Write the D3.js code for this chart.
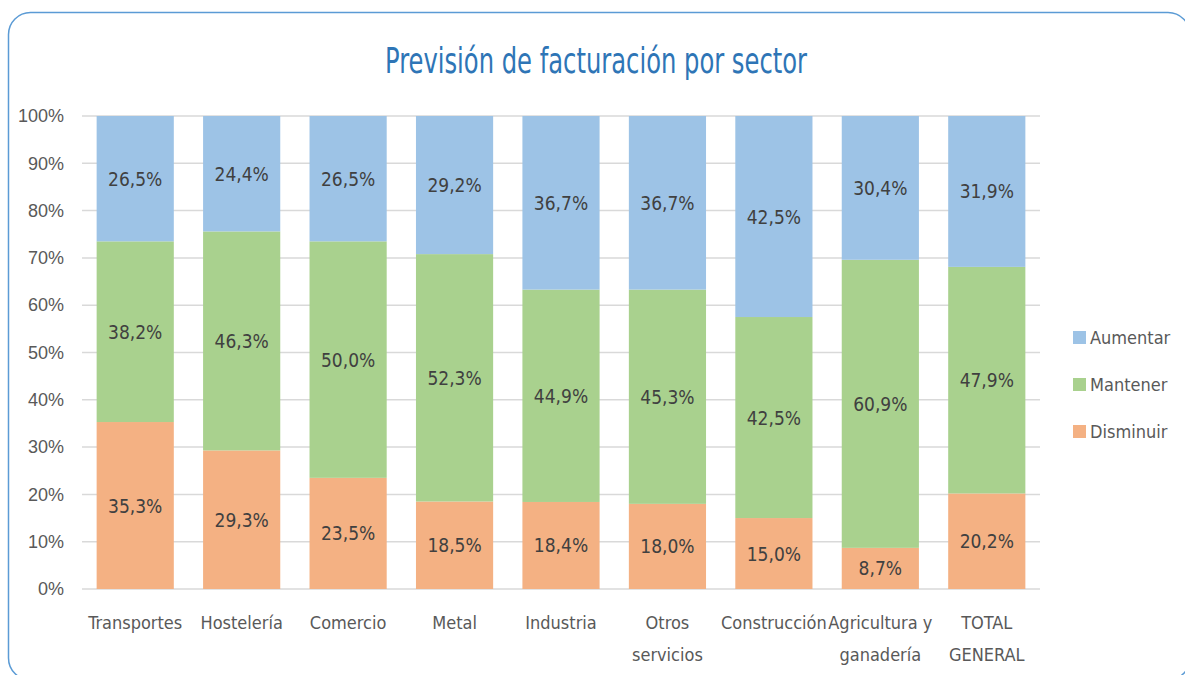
<!DOCTYPE html>
<html>
<head>
<meta charset="utf-8">
<script src="https://cdn.jsdelivr.net/npm/d3@7"></script>
<style>
  body { margin: 0; background: #fff; }
  svg { display: block; font-family: "Liberation Sans Narrow", "DejaVu Sans Condensed", sans-serif; }
</style>
</head>
<body>
<svg id="chart" width="1185" height="675"></svg>
<script>
const sectors = ['Transportes', 'Hostelería', 'Comercio', 'Metal', 'Industria', 'Otros servicios',
  'Construcción', 'Agricultura y ganadería', 'TOTAL GENERAL'];
const sectorLines = [['Transportes'], ['Hostelería'], ['Comercio'], ['Metal'], ['Industria'],
  ['Otros', 'servicios'], ['Construcción'], ['Agricultura y', 'ganadería'], ['TOTAL', 'GENERAL']];
const disminuir = [35.3, 29.3, 23.5, 18.5, 18.4, 18.0, 15.0, 8.7, 20.2];
const mantener = [38.2, 46.3, 50.0, 52.3, 44.9, 45.3, 42.5, 60.9, 47.9];
const aumentar = [26.5, 24.4, 26.5, 29.2, 36.7, 36.7, 42.5, 30.4, 31.9];
const seriesNames = ['Disminuir', 'Mantener', 'Aumentar'];
const yTicks = [0, 10, 20, 30, 40, 50, 60, 70, 80, 90, 100];

const colors = { Disminuir: '#f4b183', Mantener: '#a9d18e', Aumentar: '#9dc3e6' };

const svg = d3.select('#chart');
const margin = { top: 116, left: 82 };
const width = 958;
const height = 473;

// outer rounded frame (runs past the right edge of the picture)
svg.append('rect')
  .attr('x', 8.5).attr('y', 12.5)
  .attr('width', 1181.5).attr('height', 667.5)
  .attr('rx', 22).attr('ry', 22)
  .attr('fill', 'none')
  .attr('stroke', '#5b9bd5')
  .attr('stroke-width', 1.5);

svg.append('text')
  .attr('x', 596).attr('y', 73)
  .attr('text-anchor', 'middle')
  .attr('fill', '#2e75b6')
  .attr('textLength', 422)
  .attr('lengthAdjust', 'spacingAndGlyphs')
  .style('font-size', '36px')
  .text('Previsión de facturación por sector');

const chart = svg.append('g')
  .attr('transform', `translate(${margin.left},${margin.top})`);

const x = d3.scaleBand().domain(sectors).range([0, width]).paddingInner(0.275).paddingOuter(0.1375);
const y = d3.scaleLinear().domain([0, 100]).range([height, 0]);

// gridlines
chart.append('g')
  .selectAll('line')
  .data(yTicks)
  .join('line')
  .attr('x1', 0).attr('x2', width)
  .attr('y1', (d) => y(d)).attr('y2', (d) => y(d))
  .attr('stroke', '#d9d9d9')
  .attr('stroke-width', 1.5);

const yAxis = chart.append('g')
  .call(d3.axisLeft(y).tickValues(yTicks).tickFormat((d) => `${d}%`).tickSize(0).tickPadding(18));
yAxis.select('.domain').remove();
yAxis.selectAll('text').style('font-size', '18px').attr('fill', '#595959').attr('font-family', null);

const rows = sectors.map((s, i) => ({
  sector: s, Disminuir: disminuir[i], Mantener: mantener[i], Aumentar: aumentar[i],
}));
const stacked = d3.stack().keys(seriesNames)(rows);

const layers = chart.selectAll('.layer')
  .data(stacked)
  .join('g')
  .attr('fill', (d) => colors[d.key]);

layers.selectAll('rect')
  .data((d) => d)
  .join('rect')
  .attr('x', (d) => x(d.data.sector))
  .attr('width', x.bandwidth())
  .attr('y', (d) => y(d[1]))
  .attr('height', (d) => y(d[0]) - y(d[1]));

layers.selectAll('text')
  .data((d) => d.map((p) => ({ p, key: d.key })))
  .join('text')
  .attr('x', (d) => x(d.p.data.sector) + x.bandwidth() / 2)
  .attr('y', (d) => (y(d.p[0]) + y(d.p[1])) / 2 + 7)
  .attr('text-anchor', 'middle')
  .attr('fill', '#404040')
  .style('font-size', '19px')
  .text((d) => `${d.p.data[d.key].toFixed(1).replace('.', ',')}%`);

// x labels
const xLabels = chart.append('g')
  .selectAll('text')
  .data(sectors)
  .join('text')
  .attr('text-anchor', 'middle')
  .attr('fill', '#595959')
  .style('font-size', '18px')
  .attr('x', (d) => x(d) + x.bandwidth() / 2)
  .attr('y', height + 40);
xLabels.selectAll('tspan')
  .data((d, i) => sectorLines[i])
  .join('tspan')
  .attr('x', function () { return d3.select(this.parentNode).attr('x'); })
  .attr('dy', (d, i) => (i === 0 ? 0 : 32))
  .text((d) => d);

// legend
const legend = svg.append('g')
  .selectAll('g')
  .data(seriesNames.slice().reverse())
  .join('g')
  .attr('transform', (d, i) => `translate(1073,${331 + i * 47})`);
legend.append('rect')
  .attr('width', 13).attr('height', 13)
  .attr('fill', (d) => colors[d]);
legend.append('text')
  .attr('x', 17).attr('y', 13)
  .attr('fill', '#595959')
  .style('font-size', '18px')
  .text((d) => d);
</script>
</body>
</html>
